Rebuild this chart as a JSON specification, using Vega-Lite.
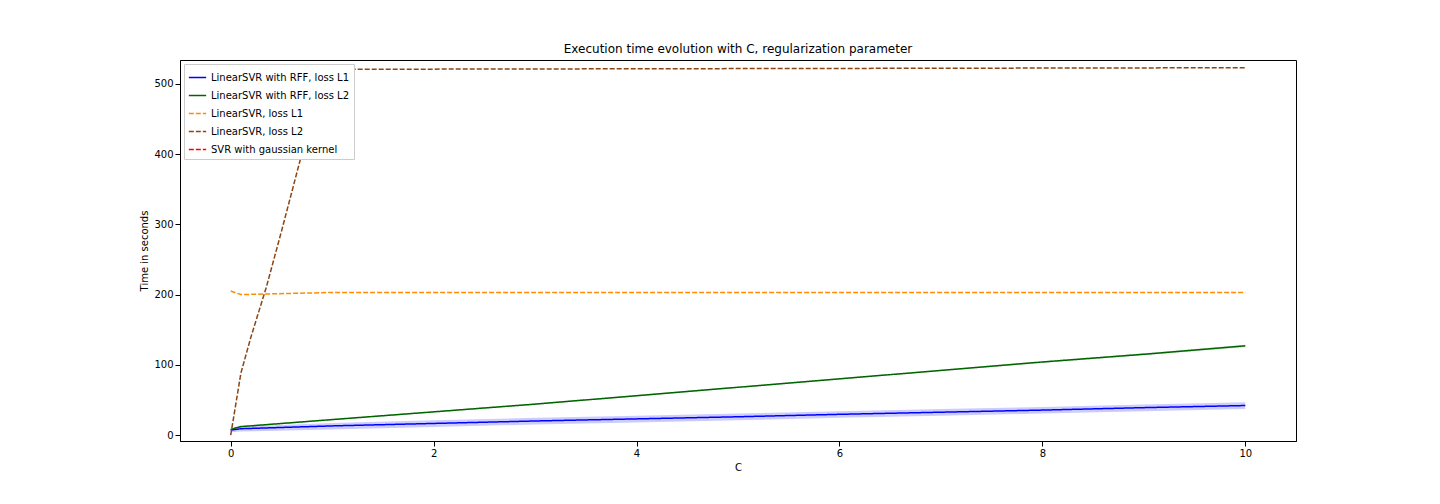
{
  "$schema": "https://vega.github.io/schema/vega-lite/v6.json",
  "width": 1116,
  "height": 381,
  "autosize": "none",
  "padding": {"left": 180, "top": 60, "right": 144, "bottom": 63},
  "background": "white",
  "title": {"text": "Execution time evolution with C, regularization parameter", "fontSize": 12, "fontWeight": "normal", "font": "DejaVu Sans", "offset": 4},
  "config": {"font": "DejaVu Sans", "view": {"stroke": "black"}, "axis": {"grid": false, "labelFontSize": 10, "titleFontSize": 10, "titleFontWeight": "normal", "domainColor": "black", "tickColor": "black", "labelColor": "black"}},
  "data": {"values": [
    {"s": "LinearSVR with RFF, loss L1", "C": 0, "t": 7, "lo": 4, "hi": 10},
    {"s": "LinearSVR with RFF, loss L1", "C": 0.1, "t": 9, "lo": 5, "hi": 12},
    {"s": "LinearSVR with RFF, loss L1", "C": 1, "t": 13, "lo": 8, "hi": 17},
    {"s": "LinearSVR with RFF, loss L1", "C": 2, "t": 16.5, "lo": 11.5, "hi": 21},
    {"s": "LinearSVR with RFF, loss L1", "C": 3, "t": 20, "lo": 15, "hi": 24.5},
    {"s": "LinearSVR with RFF, loss L1", "C": 4, "t": 23, "lo": 18, "hi": 27.5},
    {"s": "LinearSVR with RFF, loss L1", "C": 5, "t": 26, "lo": 21, "hi": 30.5},
    {"s": "LinearSVR with RFF, loss L1", "C": 6, "t": 29.5, "lo": 24.5, "hi": 34},
    {"s": "LinearSVR with RFF, loss L1", "C": 7, "t": 32.5, "lo": 27.5, "hi": 37},
    {"s": "LinearSVR with RFF, loss L1", "C": 8, "t": 35.5, "lo": 30.5, "hi": 40},
    {"s": "LinearSVR with RFF, loss L1", "C": 9, "t": 39, "lo": 34, "hi": 43.5},
    {"s": "LinearSVR with RFF, loss L1", "C": 10, "t": 42, "lo": 37, "hi": 46.5},
    {"s": "LinearSVR with RFF, loss L2", "C": 0, "t": 8, "lo": 7, "hi": 9},
    {"s": "LinearSVR with RFF, loss L2", "C": 0.1, "t": 12, "lo": 11, "hi": 13},
    {"s": "LinearSVR with RFF, loss L2", "C": 1, "t": 22, "lo": 21, "hi": 23},
    {"s": "LinearSVR with RFF, loss L2", "C": 2, "t": 33, "lo": 32, "hi": 34},
    {"s": "LinearSVR with RFF, loss L2", "C": 3, "t": 44, "lo": 43, "hi": 45},
    {"s": "LinearSVR with RFF, loss L2", "C": 4, "t": 56, "lo": 55, "hi": 57},
    {"s": "LinearSVR with RFF, loss L2", "C": 5, "t": 68, "lo": 67, "hi": 69},
    {"s": "LinearSVR with RFF, loss L2", "C": 6, "t": 80, "lo": 79, "hi": 81},
    {"s": "LinearSVR with RFF, loss L2", "C": 7, "t": 92, "lo": 91, "hi": 93},
    {"s": "LinearSVR with RFF, loss L2", "C": 8, "t": 104, "lo": 102.5, "hi": 105},
    {"s": "LinearSVR with RFF, loss L2", "C": 9, "t": 115, "lo": 113.5, "hi": 116.5},
    {"s": "LinearSVR with RFF, loss L2", "C": 10, "t": 127, "lo": 125, "hi": 128.5},
    {"s": "LinearSVR, loss L1", "C": 0, "t": 205},
    {"s": "LinearSVR, loss L1", "C": 0.1, "t": 200},
    {"s": "LinearSVR, loss L1", "C": 1, "t": 203},
    {"s": "LinearSVR, loss L1", "C": 2, "t": 203},
    {"s": "LinearSVR, loss L1", "C": 4, "t": 203},
    {"s": "LinearSVR, loss L1", "C": 6, "t": 203},
    {"s": "LinearSVR, loss L1", "C": 8, "t": 203},
    {"s": "LinearSVR, loss L1", "C": 10, "t": 203},
    {"s": "LinearSVR, loss L2", "C": 0, "t": 0},
    {"s": "LinearSVR, loss L2", "C": 0.1, "t": 88},
    {"s": "LinearSVR, loss L2", "C": 0.2, "t": 140},
    {"s": "LinearSVR, loss L2", "C": 0.35, "t": 210},
    {"s": "LinearSVR, loss L2", "C": 0.5, "t": 290},
    {"s": "LinearSVR, loss L2", "C": 0.7, "t": 400},
    {"s": "LinearSVR, loss L2", "C": 0.9, "t": 490},
    {"s": "LinearSVR, loss L2", "C": 1, "t": 521},
    {"s": "LinearSVR, loss L2", "C": 2, "t": 521},
    {"s": "LinearSVR, loss L2", "C": 4, "t": 521.5},
    {"s": "LinearSVR, loss L2", "C": 6, "t": 522},
    {"s": "LinearSVR, loss L2", "C": 8, "t": 522.5},
    {"s": "LinearSVR, loss L2", "C": 10, "t": 523}
  ]},
  "layer": [
    {
      "transform": [{"filter": "datum.lo != null"}],
      "mark": {"type": "area", "opacity": 0.2},
      "encoding": {
        "x": {"field": "C", "type": "quantitative", "scale": {"domain": [-0.5, 10.5], "nice": false, "zero": false}},
        "y": {"field": "lo", "type": "quantitative", "scale": {"domain": [-8.5, 534], "nice": false}},
        "y2": {"field": "hi"},
        "detail": {"field": "s"},
        "fill": {"field": "s", "type": "nominal", "legend": null,
          "scale": {"domain": ["LinearSVR with RFF, loss L1", "LinearSVR with RFF, loss L2", "LinearSVR, loss L1", "LinearSVR, loss L2", "SVR with gaussian kernel"], "range": ["#0000ff", "#006400", "#ff8c00", "#8b4513", "#ff0000"]}}
      }
    },
    {
      "mark": {"type": "line", "strokeWidth": 1.5},
      "encoding": {
        "x": {"field": "C", "type": "quantitative", "title": "C", "scale": {"domain": [-0.5, 10.5], "nice": false, "zero": false}, "axis": {"values": [0, 2, 4, 6, 8, 10], "format": "d"}},
        "y": {"field": "t", "type": "quantitative", "title": "Time in seconds", "scale": {"domain": [-8.5, 534], "nice": false}, "axis": {"values": [0, 100, 200, 300, 400, 500]}},
        "color": {"field": "s", "type": "nominal", "title": null,
          "scale": {"domain": ["LinearSVR with RFF, loss L1", "LinearSVR with RFF, loss L2", "LinearSVR, loss L1", "LinearSVR, loss L2", "SVR with gaussian kernel"], "range": ["#0000ff", "#006400", "#ff8c00", "#8b4513", "#ff0000"]},
          "legend": {"orient": "top-left", "offset": 4, "symbolType": "stroke", "symbolSize": 300, "labelFontSize": 10, "fillColor": "white", "strokeColor": "#cccccc", "padding": 4, "rowPadding": 3, "labelLimit": 300}},
        "strokeDash": {"field": "s", "type": "nominal",
          "scale": {"domain": ["LinearSVR with RFF, loss L1", "LinearSVR with RFF, loss L2", "LinearSVR, loss L1", "LinearSVR, loss L2", "SVR with gaussian kernel"], "range": [[1, 0], [1, 0], [5, 2], [5, 2], [5, 2]]},
          "legend": {"orient": "top-left", "offset": 4, "symbolType": "stroke", "symbolSize": 300, "labelFontSize": 10, "fillColor": "white", "strokeColor": "#cccccc", "padding": 4, "rowPadding": 3, "labelLimit": 300}}
      }
    }
  ],
  "resolve": {"scale": {"fill": "independent"}}
}
